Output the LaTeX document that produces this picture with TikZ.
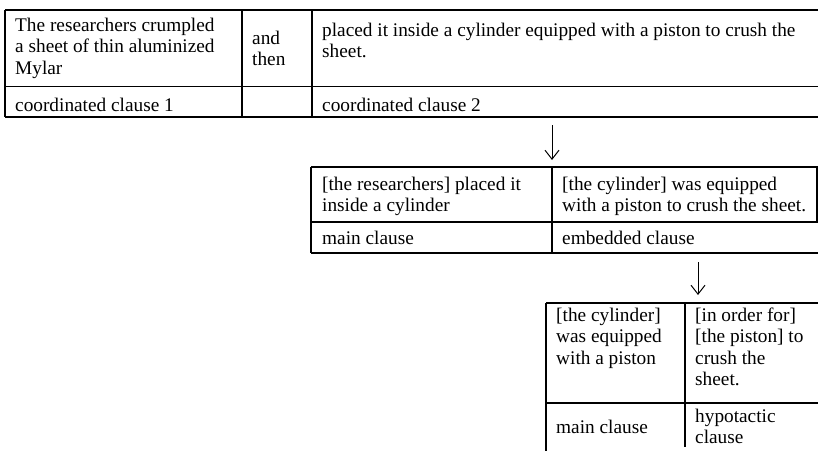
\documentclass[tikz,border=0pt]{standalone}
\usepackage{fontspec}
\setmainfont{Liberation Serif}
\usetikzlibrary{arrows.meta}
\newcommand{\cellstrut}{\rule{0pt}{16pt}}
\begin{document}
\begin{tikzpicture}[x=1pt,y=-1pt,
  tabline/.style={line width=1.4pt},
  thinline/.style={line width=0.9pt},
  celltext/.style={anchor=north west, inner sep=0pt, align=left,
    font=\fontsize{19.3}{21.5}\selectfont},
  flowarrow/.style={line width=1pt, -{Straight Barb[length=9pt,width=14pt,line width=1pt]}}]
\useasboundingbox (0,0) rectangle (818,451);

% ---- table 1: two coordinated clauses ----
\draw[tabline] (5,10) -- (818,10);
\draw[thinline] (5,86) -- (818,86);
\draw[tabline] (5,117) -- (818,117);
\draw[tabline] (5,10) -- (5,117);
\draw[tabline] (242,10) -- (242,117);
\draw[tabline] (312,10) -- (312,117);

\node[celltext] (t1a) at (15,15) {\cellstrut The researchers crumpled\\a sheet of thin aluminized\\Mylar};
\node[celltext] (t1b) at (252,28) {\cellstrut and\\then};
\node[celltext] (t1c) at (322,20) {\cellstrut placed it inside a cylinder equipped with a piston to crush the\\sheet.};
\node[celltext] (t1d) at (15,95) {\cellstrut coordinated clause 1};
\node[celltext] (t1e) at (322,95) {\cellstrut coordinated clause 2};

% ---- arrow to table 2 ----
\coordinate (a1s) at (552,125);
\coordinate (a1e) at (552,160);
\draw[flowarrow] (a1s) -- (a1e);

% ---- table 2: main and embedded clause ----
\draw[tabline] (311,167) -- (817.5,167);
\draw[tabline] (311,222) -- (817.5,222);
\draw[tabline] (311,253) -- (818,253);
\draw[tabline] (311,167) -- (311,253);
\draw[tabline] (552,167) -- (552,253);
\draw[tabline] (817,167) -- (817,222);

\node[celltext] (t2a) at (322,174) {\cellstrut [the researchers] placed it\\inside a cylinder};
\node[celltext] (t2b) at (562,174) {\cellstrut [the cylinder] was equipped\\with a piston to crush the sheet.};
\node[celltext] (t2c) at (322,228) {\cellstrut main clause};
\node[celltext] (t2d) at (562,228) {\cellstrut embedded clause};

% ---- arrow to table 3 ----
\coordinate (a2s) at (698,262);
\coordinate (a2e) at (698,295);
\draw[flowarrow] (a2s) -- (a2e);

% ---- table 3: main and hypotactic clause ----
\draw[tabline] (546,303) -- (818,303);
\draw[tabline] (546,403) -- (818,403);
\draw[tabline] (546,303) -- (546,451);
\draw[tabline] (685,303) -- (685,447);

\node[celltext] (t3a) at (556,305) {\cellstrut [the cylinder]\\was equipped\\with a piston};
\node[celltext] (t3b) at (695,305) {\cellstrut [in order for]\\{}[the piston] to\\crush the\\sheet.};
\node[celltext] (t3c) at (556,417) {\cellstrut main clause};
\node[celltext] (t3d) at (695,406) {\cellstrut hypotactic\\clause};
\end{tikzpicture}
\end{document}
